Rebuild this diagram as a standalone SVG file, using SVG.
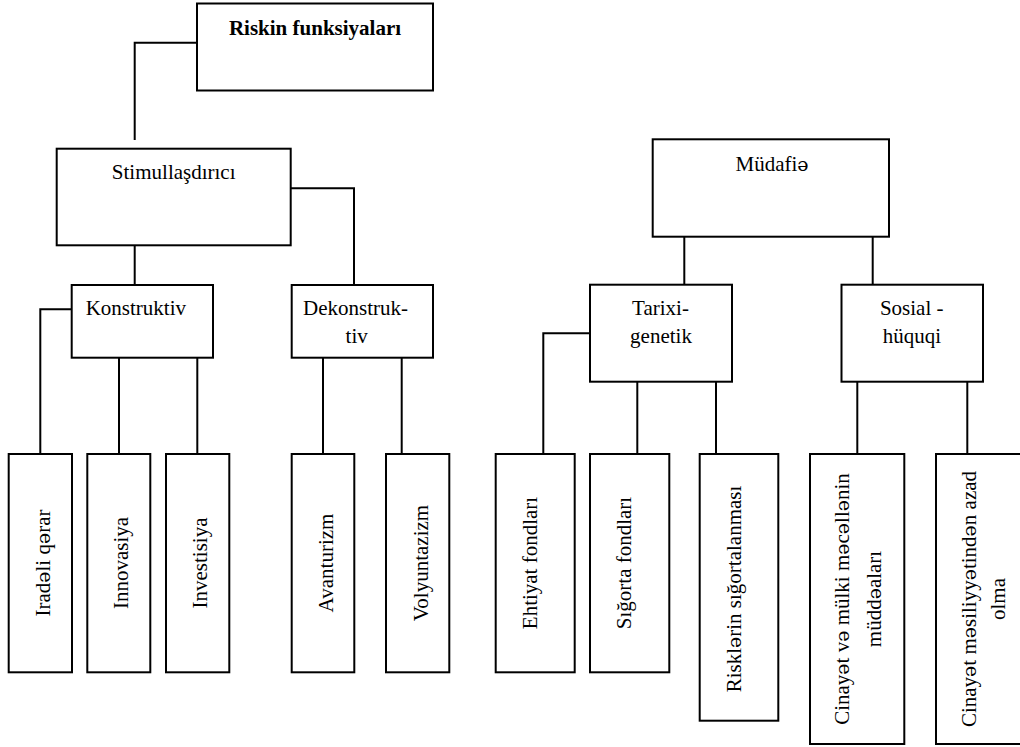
<svg xmlns="http://www.w3.org/2000/svg" width="1020" height="747" viewBox="0 0 1020 747">
<style>
.b{fill:#fff;stroke:#000;stroke-width:2}
.c{fill:none;stroke:#000;stroke-width:2}
text{font-family:"Liberation Serif","Times New Roman",serif;font-size:21px;fill:#000}
.m{text-anchor:middle}
.bold{font-weight:bold}
.e{font-family:"DejaVu Serif",serif;font-size:19px}
</style>
<rect width="1020" height="747" fill="#fff"/>
<g id="connectors">
<path class="c" d="M197,42.7 H134.7 V140"/>
<path class="c" d="M134.7,236 V285"/>
<path class="c" d="M290.7,188.3 H354 V285"/>
<path class="c" d="M71.7,309.3 H40.3 V454"/>
<path class="c" d="M119,357.7 V454"/>
<path class="c" d="M197.3,357.7 V454"/>
<path class="c" d="M323,357.7 V454"/>
<path class="c" d="M401.7,357.7 V454"/>
<path class="c" d="M684.3,236.7 V284.7"/>
<path class="c" d="M872.7,236.7 V284.7"/>
<path class="c" d="M590,333.3 H543.3 V454"/>
<path class="c" d="M637.3,381.7 V454"/>
<path class="c" d="M716,381.7 V454"/>
<path class="c" d="M857.3,381.7 V454"/>
<path class="c" d="M967.3,381.7 V454"/>
</g>
<g id="riskin">
<rect class="b" x="197" y="3.5" width="236" height="87"/>
<text class="m bold" x="315" y="34.5">Riskin funksiyaları</text>
</g>
<g id="stimul">
<rect class="b" x="56.7" y="148.7" width="234" height="96.6"/>
<text class="m" x="173.7" y="179">Stimullaşdırıcı</text>
</g>
<g id="konstruktiv">
<rect class="b" x="71.7" y="285" width="141.3" height="72.7"/>
<text x="85.7" y="315">Konstruktiv</text>
</g>
<g id="dekonstruktiv">
<rect class="b" x="291.7" y="285" width="141.3" height="72.7"/>
<text x="303" y="315">Dekonstruk-</text>
<text class="m" x="356.7" y="342.7">tiv</text>
</g>
<g id="iradeli">
<rect class="b" x="8.7" y="454" width="63.3" height="218.3"/>
<text class="m" x="49.5" y="563" transform="rotate(-90 49.5 563)">Irad<tspan class="e">ə</tspan>li q<tspan class="e">ə</tspan>rar</text>
</g>
<g id="innovasiya">
<rect class="b" x="87.3" y="454" width="63" height="218.3"/>
<text class="m" x="128.3" y="563" transform="rotate(-90 128.3 563)">Innovasiya</text>
</g>
<g id="investisiya">
<rect class="b" x="166" y="454" width="63.3" height="218.3"/>
<text class="m" x="207.3" y="563" transform="rotate(-90 207.3 563)">Investisiya</text>
</g>
<g id="avanturizm">
<rect class="b" x="291.7" y="454" width="62.6" height="218.3"/>
<text class="m" x="333" y="563" transform="rotate(-90 333 563)">Avanturizm</text>
</g>
<g id="volyuntazizm">
<rect class="b" x="386" y="454" width="63.3" height="218.3"/>
<text class="m" x="427.5" y="563" transform="rotate(-90 427.5 563)">Volyuntazizm</text>
</g>
<g id="mudafie">
<rect class="b" x="652.7" y="139.3" width="236.3" height="97.4"/>
<text class="m" x="772" y="170.7">Müdafi<tspan class="e">ə</tspan></text>
</g>
<g id="tarixi">
<rect class="b" x="590" y="284.7" width="142" height="97"/>
<text class="m" x="660.5" y="315">Tarixi-</text>
<text class="m" x="661" y="342.5">genetik</text>
</g>
<g id="sosial">
<rect class="b" x="841.5" y="284.7" width="141.5" height="97"/>
<text class="m" x="911.7" y="315">Sosial -</text>
<text class="m" x="911.8" y="342.5">hüquqi</text>
</g>
<g id="ehtiyat">
<rect class="b" x="495.7" y="454" width="79" height="218.3"/>
<text class="m" x="536.7" y="563" transform="rotate(-90 536.7 563)">Ehtiyat fondları</text>
</g>
<g id="sigorta">
<rect class="b" x="590" y="454" width="79.3" height="218.3"/>
<text class="m" x="630.5" y="563" transform="rotate(-90 630.5 563)">Sığorta fondları</text>
</g>
<g id="risklerin">
<rect class="b" x="699.7" y="454" width="78.6" height="266.7"/>
<text class="m" x="741" y="589" transform="rotate(-90 741 589)">Riskl<tspan class="e">ə</tspan>rin sığortalanması</text>
</g>
<g id="cinayet1">
<rect class="b" x="810" y="454" width="94.3" height="290"/>
<text class="m" x="849" y="599" transform="rotate(-90 849 599)">Cinay<tspan class="e">ə</tspan>t v<tspan class="e">ə</tspan> mülki m<tspan class="e">ə</tspan>c<tspan class="e">ə</tspan>ll<tspan class="e">ə</tspan>nin</text>
<text class="m" x="881" y="599" transform="rotate(-90 881 599)">müdd<tspan class="e">ə</tspan>aları</text>
</g>
<g id="cinayet2">
<rect class="b" x="936" y="454" width="94" height="290"/>
<text class="m" x="975.5" y="599" transform="rotate(-90 975.5 599)">Cinay<tspan class="e">ə</tspan>t m<tspan class="e">ə</tspan>siliyy<tspan class="e">ə</tspan>tind<tspan class="e">ə</tspan>n azad</text>
<text class="m" x="1005" y="599" transform="rotate(-90 1005 599)">olma</text>
</g>
</svg>
